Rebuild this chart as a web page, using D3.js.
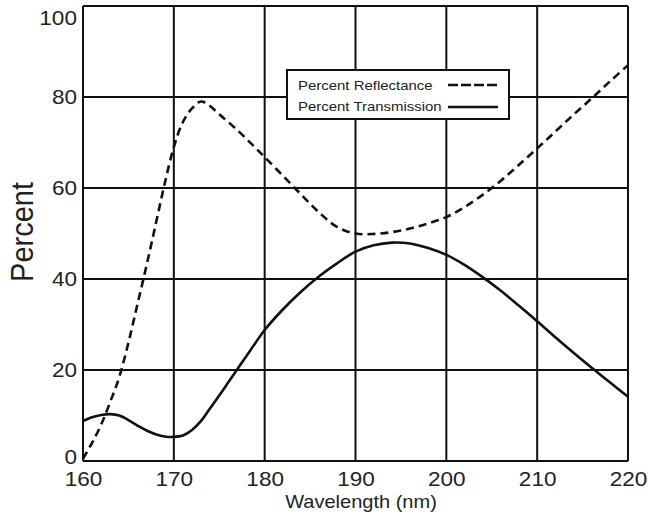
<!DOCTYPE html>
<html>
<head>
<meta charset="utf-8">
<script src="https://cdn.jsdelivr.net/npm/d3@7"></script>
<style>
  html, body { margin: 0; padding: 0; background: #fff; }
  svg { display: block; }
  text { font-family: "Liberation Sans", Arial, Helvetica, sans-serif; fill: #222; }
</style>
</head>
<body>
<svg id="chart" width="648" height="525"></svg>
<script>
// Wavelength samples (nm) and the two measured curves (%)
const reflWavelength = [160, 161, 162, 163, 164, 165, 166, 167, 168, 169, 170, 171, 172, 173, 174, 175, 176, 177, 178, 179, 180, 182, 184, 186, 188, 190, 192, 194, 196, 198, 200, 202, 204, 206, 208, 210, 212, 214, 216, 218, 220];
const reflectance = [0.5, 4, 8, 13, 18.5, 26, 34.5, 43, 52, 61, 69, 74.5, 77.5, 79, 78, 76.2, 74.5, 72.7, 70.8, 68.8, 66.8, 62.7, 58.6, 54.6, 51.4, 50, 49.9, 50.3, 51.1, 52.2, 53.6, 55.8, 58.5, 61.6, 65.1, 68.7, 72.4, 76.1, 79.7, 83.4, 87];

const transWavelength = [160, 161, 162, 163, 164, 165, 166, 167, 168, 169, 170, 171, 172, 173, 174, 175, 176, 177, 178, 179, 180, 182, 184, 186, 188, 190, 192, 194, 196, 198, 200, 202, 204, 206, 208, 210, 212, 214, 216, 218, 220];
const transmission = [8.8, 9.6, 10.1, 10.3, 10.0, 9.0, 7.8, 6.7, 5.9, 5.4, 5.3, 5.6, 6.8, 8.8, 11.6, 14.4, 17.3, 20.2, 23.1, 26.0, 28.8, 33.3, 37.2, 40.6, 43.5, 46, 47.4, 48, 47.8, 46.8, 45.3, 43.1, 40.4, 37.4, 34.1, 30.7, 27.2, 23.8, 20.5, 17.3, 14.1];

const xTicks = [160, 170, 180, 190, 200, 210, 220];
const yTicks = [0, 20, 40, 60, 80, 100];

const seriesNames = ["Percent Reflectance", "Percent Transmission"];
const xTitle = "Wavelength (nm)";
const yTitle = "Percent";

const svg = d3.select("#chart");
const ink = "#111";
const stretch = 1.1; // lettering is set slightly wide

const x = d3.scaleLinear().domain([160, 220]).range([83, 628]);
const y = d3.scaleLinear().domain([0, 100]).range([461, 6]);

// grid
const grid = svg.append("g").attr("stroke", ink).attr("stroke-width", 2);
grid.selectAll("line.v").data(xTicks).join("line")
  .attr("class", "v")
  .attr("x1", d => x(d)).attr("x2", d => x(d))
  .attr("y1", y(100)).attr("y2", y(0));
grid.selectAll("line.h").data(yTicks).join("line")
  .attr("class", "h")
  .attr("x1", x(160)).attr("x2", x(220))
  .attr("y1", d => y(d)).attr("y2", d => y(d));

// axes (labels only; the frame comes from the grid)
const xAxis = svg.append("g")
  .attr("transform", `translate(0,${y(0)})`)
  .call(d3.axisBottom(x).tickValues(xTicks).tickSize(0).tickPadding(10.5).tickFormat(d3.format("d")));
xAxis.select(".domain").remove();
xAxis.selectAll("text")
  .attr("font-size", 20.5)
  .attr("fill", "#222")
  .attr("transform", `scale(${stretch},1)`);

const yAxis = svg.append("g")
  .attr("transform", `translate(${x(160)},0)`)
  .call(d3.axisLeft(y).tickValues(yTicks).tickSize(0).tickPadding(5.5).tickFormat(d3.format("d")));
yAxis.select(".domain").remove();
yAxis.selectAll("text")
  .attr("font-size", 20.5)
  .attr("fill", "#222")
  .attr("transform", d => {
    // keep the end labels inside the figure
    const shift = d === 100 ? 12 : d === 0 ? -4.5 : 0;
    return `translate(0,${shift}) scale(${stretch},1)`;
  });

// curves
const lineR = d3.line()
  .x((d, i) => x(reflWavelength[i]))
  .y(d => y(d))
  .curve(d3.curveCatmullRom.alpha(0.5));
const lineT = d3.line()
  .x((d, i) => x(transWavelength[i]))
  .y(d => y(d))
  .curve(d3.curveCatmullRom.alpha(0.5));

svg.append("path")
  .datum(reflectance)
  .attr("d", lineR)
  .attr("fill", "none")
  .attr("stroke", ink)
  .attr("stroke-width", 2.6)
  .attr("stroke-dasharray", "8,5");

svg.append("path")
  .datum(transmission)
  .attr("d", lineT)
  .attr("fill", "none")
  .attr("stroke", ink)
  .attr("stroke-width", 2.6);

// legend
const legend = svg.append("g");
legend.append("rect")
  .attr("x", 287).attr("y", 70)
  .attr("width", 222).attr("height", 49)
  .attr("fill", "#fff").attr("stroke", ink).attr("stroke-width", 2);

const legendRows = [
  { name: seriesNames[0], dash: "10,3", ty: 90, ly: 85 },
  { name: seriesNames[1], dash: null, ty: 111, ly: 107 }
];
legendRows.forEach(r => {
  legend.append("text")
    .attr("transform", `translate(298,${r.ty}) scale(${stretch},1)`)
    .attr("font-size", 13.6)
    .text(r.name);
  legend.append("line")
    .attr("x1", 448).attr("x2", 498)
    .attr("y1", r.ly).attr("y2", r.ly)
    .attr("stroke", ink).attr("stroke-width", 2.4)
    .attr("stroke-dasharray", r.dash);
});

// axis titles
svg.append("text")
  .attr("transform", `translate(361,508) scale(${stretch},1)`)
  .attr("text-anchor", "middle")
  .attr("font-size", 18.2)
  .text(xTitle);

svg.append("text")
  .attr("transform", `translate(33,232) scale(${stretch},1) rotate(-90)`)
  .attr("text-anchor", "middle")
  .attr("font-size", 29)
  .text(yTitle);
</script>
</body>
</html>
